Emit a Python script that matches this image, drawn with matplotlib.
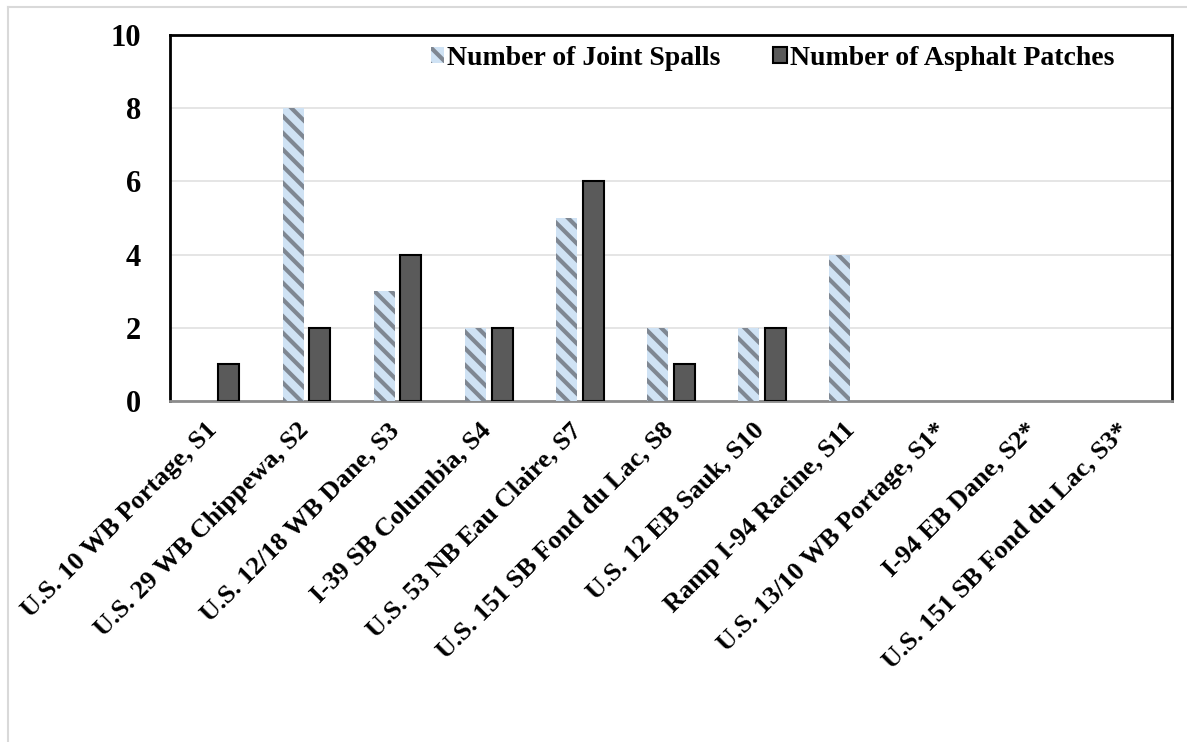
import matplotlib
matplotlib.use("Agg")
import matplotlib.pyplot as plt
import matplotlib.transforms as mtransforms
import numpy as np
from matplotlib.lines import Line2D

categories = ["U.S. 10 WB Portage, S1", "U.S. 29 WB Chippewa, S2", "U.S. 12/18 WB Dane, S3",
              "I-39 SB Columbia, S4", "U.S. 53 NB Eau Claire, S7", "U.S. 151 SB Fond du Lac, S8",
              "U.S. 12 EB Sauk, S10", "Ramp I-94 Racine, S11", "U.S. 13/10 WB Portage, S1*",
              "I-94 EB Dane, S2*", "U.S. 151 SB Fond du Lac, S3*"]
joint_spalls = [0, 8, 3, 2, 5, 2, 2, 4, 0, 0, 0]
asphalt_patches = [1, 2, 4, 2, 6, 1, 2, 0, 0, 0, 0]
yticks = [0, 2, 4, 6, 8, 10]

plt.rcParams['font.family'] = ['Liberation Serif', 'DejaVu Serif']
plt.rcParams['font.weight'] = 'bold'
plt.rcParams['hatch.linewidth'] = 3.0

W, H = 1187, 742
fig = plt.figure(figsize=(W/100, H/100), dpi=100)
ax = fig.add_axes([170/W, 1-401/H, (1172-170)/W, (401-35)/H])

x = np.arange(len(categories))
bw = 0.23
ax.bar(x - 0.145, joint_spalls, width=bw, color='#cfe2f4', edgecolor='#7f8792',
       linewidth=0, hatch='\\\\', label='Number of Joint Spalls', zorder=3)
ax.bar(x + 0.145, asphalt_patches, width=bw, color='#5a5a5a', edgecolor='black',
       linewidth=[1.5 if v > 0 else 0 for v in asphalt_patches],
       label='Number of Asphalt Patches', zorder=3)

ax.set_xlim(-0.5, len(categories) - 0.5)
ax.set_ylim(0, 10)
ax.set_yticks(yticks)
ax.set_yticklabels([str(v) for v in yticks], fontsize=22, fontweight='bold')
ax.tick_params(axis='y', length=0, pad=21)
ax.tick_params(axis='x', length=0, pad=14)
ax.set_xticks(x)
ax.set_xticklabels(categories, rotation=45, ha='right', va='top', rotation_mode='anchor',
                   fontsize=19, fontweight='bold')
offset = mtransforms.ScaledTranslation(-10/100, 2/100, fig.dpi_scale_trans)
for lbl in ax.get_xticklabels():
    lbl.set_transform(lbl.get_transform() + offset)
ax.grid(axis='y', color='#e0e0e0', linewidth=1.2, zorder=0)
ax.set_axisbelow(True)
for s in ['left', 'top', 'right']:
    ax.spines[s].set_color('black')
    ax.spines[s].set_linewidth(2)
ax.spines['bottom'].set_color('#8c8c8c')
ax.spines['bottom'].set_linewidth(2)

leg = ax.legend(loc='upper left', bbox_to_anchor=(0.249, 1.0), ncol=2, frameon=False,
                prop={'family': 'Liberation Serif', 'weight': 'bold', 'size': 20},
                handlelength=0.5, handleheight=0.5, handletextpad=0.1, columnspacing=1.9,
                borderaxespad=0.0)

# outer chart border (top and left visible)
fig.add_artist(Line2D([8/W, 8/W], [0, 1-7/H], color='#d9d9d9', linewidth=1.5))
fig.add_artist(Line2D([8/W, 1], [1-7/H, 1-7/H], color='#d9d9d9', linewidth=1.5))

fig.savefig('out.png', dpi=100)
